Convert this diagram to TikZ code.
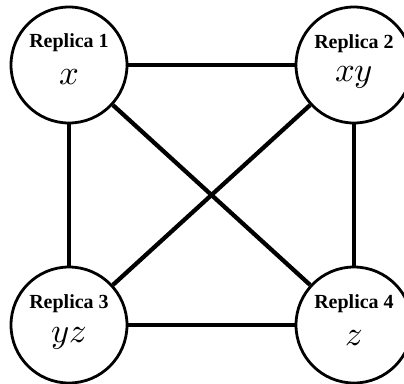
\documentclass[tikz,border=0pt]{standalone}
\usepackage{fontspec}
\setmainfont{Liberation Serif}
\usepackage{unicode-math}
\setmathfont{Latin Modern Math}
\begin{document}
\begin{tikzpicture}[x=0.75pt,y=-0.75pt,
  replica/.style={circle,draw,line width=2.1pt,minimum size=87pt,inner sep=0pt},
  title/.style={font=\fontsize{15}{18}\selectfont\bfseries,inner sep=0pt},
  val/.style={font=\fontsize{26}{30}\selectfont,inner sep=0pt},
  link/.style={line width=3.2pt}]
\useasboundingbox (0,0) rectangle (404,383);
\node[replica] (r1) at (69,65) {};
\node[replica] (r2) at (354,65) {};
\node[replica] (r3) at (69,325) {};
\node[replica] (r4) at (354,325) {};
\node[title] (t1) at (69,43) {Replica 1};
\node[title] (t2) at (354,44) {Replica 2};
\node[title] (t3) at (69,304) {Replica 3};
\node[title] (t4) at (354,304) {Replica 4};
\node[val] (v1) at (69,77) {$x$};
\node[val] (v2) at (354,77) {$xy$};
\node[val] (v3) at (69,338) {$yz$};
\node[val] (v4) at (354,338) {$z$};
\draw[link] (r1) -- (r2);
\draw[link] (r3) -- (r4);
\draw[link] (r1) -- (r3);
\draw[link] (r2) -- (r4);
\draw[link] (r1) -- (r4);
\draw[link] (r2) -- (r3);
\end{tikzpicture}
\end{document}
